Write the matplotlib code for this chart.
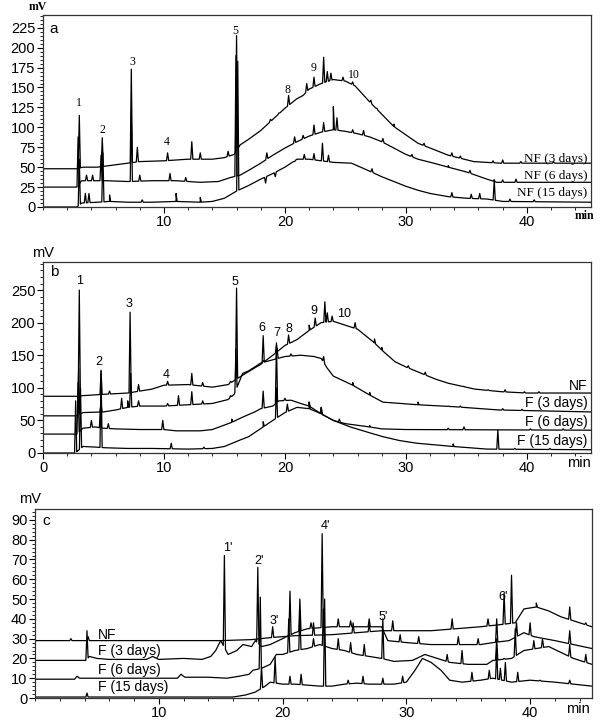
import numpy as np
import matplotlib
matplotlib.use("Agg")
import matplotlib.pyplot as plt
from matplotlib.ticker import MultipleLocator, FixedLocator

# ---------------- DATA ----------------
# Each trace: baseline anchor points (time min, mV) and peak apexes (time min, mV)

# Panel a
A_LABELS = ["NF (3 days)", "NF (6 days)", "NF (15 days)"]
A_NF3_BASE = [(0, 48), (2.8, 48), (3.3, 50), (4.5, 50), (5.5, 52), (7, 55), (8, 57), (10, 58), (12, 60),
              (14, 60), (15, 62), (15.8, 66), (16.3, 78), (17, 85), (18, 96), (19, 110), (20, 124), (21, 136),
              (21.5, 140), (22, 148), (23, 155), (24, 160), (25, 158), (25.8, 152), (27, 132), (29, 101),
              (31, 80), (33.5, 65), (35.6, 57), (37.8, 55), (45.3, 55)]
A_NF3_PEAKS = [(3.0, 115), (4.9, 87), (7.3, 173), (7.8, 75), (10.3, 68), (12.3, 82), (13.0, 68), (15.3, 70),
               (16.0, 215), (18.8, 110), (19.5, 118), (20.3, 140), (21.8, 155), (22.4, 163), (23.2, 188),
               (23.5, 170), (23.8, 168), (24.8, 163), (25.6, 157), (27.1, 134), (27.6, 124), (29.0, 104),
               (31.5, 80), (33.8, 68), (34.5, 64), (37.2, 58), (38.0, 59), (39.5, 57), (42.2, 57)]
A_NF6_BASE = [(0, 25), (2.8, 25), (3.2, 33), (5.2, 33), (7, 32), (9, 33), (11, 33), (13, 31), (14.5, 32),
              (15.5, 37), (16.3, 40), (17, 46), (18, 55), (19, 65), (20, 74), (21, 82), (22, 89), (23, 94),
              (24, 97), (25, 95), (26, 92), (27, 88), (28, 82), (29, 74), (30, 66), (31, 60), (32.3, 55),
              (33.5, 50), (35, 44), (36.5, 36), (37.5, 31), (45.3, 31)]
A_NF6_PEAKS = [(2.9, 88), (3.6, 40), (4.1, 40), (4.8, 65), (7.3, 120), (8.0, 40), (10.5, 42), (11.8, 37),
               (15.95, 190), (18.5, 68), (20.8, 88), (21.5, 90), (22.4, 103), (23.2, 106), (24.0, 126),
               (24.3, 112), (25.6, 97), (26.5, 96), (28.1, 86), (30.5, 66), (33.5, 52), (35.3, 46),
               (37.3, 34), (38.0, 34), (39.1, 35)]
A_NF15_BASE = [(0, 0), (2.8, 0), (3.2, 5), (4.5, 6), (5.5, 7), (7, 6), (9, 6), (11, 7), (13, 6), (14, 7),
               (15, 11), (16, 20), (17, 27), (18, 35), (19, 42), (20, 50), (21, 60), (22, 60), (23, 58),
               (24, 56), (25.5, 55), (27, 45), (28, 38), (29, 32), (30, 26), (31, 21), (32, 17), (33.5, 13),
               (35, 11), (36.7, 10), (38, 7), (45.3, 6)]
A_NF15_PEAKS = [(3.0, 60), (3.5, 17), (3.8, 17), (4.95, 68), (5.5, 15), (8.2, 9), (11, 17), (13, 12),
                (16.1, 183), (18.4, 30), (19.2, 38), (20.8, 57), (21.6, 66), (22.4, 67), (23.1, 80),
                (23.6, 65), (27.2, 48), (33.8, 18), (35.4, 16), (36.1, 17), (37.3, 34), (38.6, 10), (40.6, 9)]
A_PEAK_NAMES = ["1", "2", "3", "4", "5", "8", "9", "10"]
A_PEAK_POS = [(3.0, 131), (4.9, 97), (7.35, 182), (10.2, 82), (15.9, 221), (20.2, 147), (22.4, 175), (25.7, 166)]
A_YTICKS = [0, 25, 50, 75, 100, 125, 150, 175, 200, 225]

# Panel b
B_LABELS = ["NF", "F (3 days)", "F (6 days)", "F (15 days)"]
B_NF_BASE = [(0, 87), (2.8, 87), (3.3, 88), (5, 90), (7, 92), (9, 98), (10, 104), (12, 105), (14, 101),
             (15.3, 105), (16.3, 117), (17, 125), (18, 136), (19, 150), (20, 165), (21, 174), (22, 188),
             (23, 200), (24, 202), (25, 196), (26, 190), (27.4, 169), (28, 158), (29.1, 140), (30, 132),
             (31.3, 122), (32.5, 113), (33.5, 107), (35.7, 98), (37.9, 94), (40, 92), (45.3, 92)]
B_NF_PEAKS = [(3.0, 250), (4.8, 125), (5.5, 95), (7.2, 216), (7.9, 105), (10.3, 110), (12.3, 122),
              (13.2, 108), (15.5, 110), (16.0, 253), (18.2, 180), (19.3, 166), (20.3, 181), (20.6, 170),
              (22.0, 196), (22.5, 207), (23.3, 232), (23.5, 215), (23.9, 210), (25.8, 200), (27.4, 175),
              (28.0, 162), (30.2, 134), (31.6, 124), (34.8, 102), (36.8, 97), (38.2, 97), (39.8, 94), (41.0, 94)]
B_F3_BASE = [(0, 57), (2.8, 57), (3.3, 62), (5, 63), (6, 66), (7, 70), (8, 72), (10, 72), (12, 74), (14, 76),
             (15.3, 82), (15.8, 90), (16.5, 122), (17, 126), (18, 138), (19, 143), (20, 148), (21.3, 150),
             (22.4, 148), (23, 145), (23.5, 130), (24, 118), (25.6, 104), (27, 89), (28.1, 78), (31, 74),
             (34, 71), (37.7, 66), (45.3, 63)]
B_F3_PEAKS = [(2.95, 130), (4.8, 75), (6.5, 84), (7.0, 80), (7.25, 122), (7.9, 80), (10.3, 76), (11.2, 88),
              (12.3, 94), (13.2, 80), (15.5, 88), (15.95, 160), (18.2, 142), (19.35, 160), (20.5, 152),
              (23.2, 148), (25.6, 108), (27.0, 93), (31.0, 78), (33.5, 72), (34.5, 72), (38.0, 68), (39.6, 67)]
B_F6_BASE = [(0, 29), (2.8, 29), (3.3, 38), (4.3, 40), (5, 38), (6, 37), (8, 36), (10, 36), (11, 34),
             (13, 34), (14, 36), (15.6, 47), (16.5, 55), (17.5, 63), (18, 68), (19, 72), (19.5, 80),
             (20.5, 81), (21.3, 76), (22, 72), (23, 60), (24, 50), (25, 45), (27, 40), (28, 37), (30, 36),
             (45.3, 35)]
B_F6_PEAKS = [(2.9, 108), (4.0, 50), (4.75, 70), (5.4, 45), (9.9, 50), (15.6, 52), (18.2, 95), (19.3, 169),
              (20.0, 84), (22.0, 78), (23.0, 70), (24.5, 52), (27.0, 42), (33.5, 38), (34.8, 40), (40.3, 37),
              (43.0, 37)]
B_F15_BASE = [(0, 0), (2.6, 0), (2.8, 2), (3.3, 10), (4.4, 9), (5.2, 8), (7, 7), (9, 7), (12, 6), (14, 7),
              (15, 10), (16.3, 20), (17, 25), (18.2, 40), (19, 50), (20, 62), (21, 70), (22, 68), (22.9, 61),
              (24, 50), (25.4, 40), (27, 31), (28.1, 25), (29.5, 19), (30.9, 15), (33.9, 10), (36.7, 6),
              (45.3, 5)]
B_F15_PEAKS = [(2.7, 80), (3.1, 100), (4.8, 127), (10.6, 15), (13.3, 9), (18.2, 48), (19.3, 100),
               (20.2, 75), (22.0, 78), (23.0, 70), (33.9, 14), (37.6, 35), (39.0, 7), (41.9, 7)]
B_PEAK_NAMES = ["1", "2", "3", "4", "5", "6", "7", "8", "9", "10"]
B_PEAK_POS = [(3.0, 264), (4.6, 140), (7.1, 228), (10.2, 120), (15.9, 262), (18.1, 192), (19.3, 184),
              (20.3, 190), (22.4, 218), (24.9, 213)]
B_YTICKS = [0, 50, 100, 150, 200, 250]

# Panel c
C_LABELS = ["NF", "F (3 days)", "F (6 days)", "F (15 days)"]
C_NF_BASE = [(0, 29), (15, 29), (17.5, 29.5), (19, 30.5), (20, 31), (21, 31.5), (24, 32), (26, 33),
             (28, 34), (30, 34), (32, 34), (34, 35), (36, 36), (37.5, 37), (38.8, 38), (39.5, 45),
             (40.5, 46), (41.5, 44), (42.5, 41), (43.5, 39), (45, 36)]
C_NF_PEAKS = [(2.9, 30), (4.3, 31), (19.2, 36), (22.5, 38), (25.7, 38), (27.0, 37), (28.9, 39), (33.7, 40),
              (36.6, 40), (37.9, 53), (38.5, 62), (40.5, 48), (43.2, 46), (44.5, 38)]
C_F3_BASE = [(0, 19), (4.1, 19), (4.4, 21), (5, 20), (6, 19.5), (9, 19.5), (9.5, 21), (10, 19.5), (12, 20),
             (13.5, 19.5), (14.2, 21), (14.6, 24), (15.0, 29), (15.6, 22), (16.3, 24), (16.8, 27),
             (17.5, 26), (17.8, 29), (18.3, 26), (19, 27), (20, 30), (21, 33), (22, 35), (24, 36),
             (28, 36), (28.5, 29), (30, 28), (32, 27), (34, 27), (36, 27), (37, 28), (38.3, 29), (39.5, 33),
             (40.3, 31), (42, 29), (43.5, 27), (45, 25)]
C_F3_PEAKS = [(4.2, 34), (15.3, 72), (18.0, 66), (20.6, 54), (21.4, 50), (22.3, 38), (23.2, 83), (24.5, 40),
              (25.5, 39), (27.0, 40), (29.5, 32), (31.0, 31), (34.2, 31), (35.8, 30), (37.3, 40), (38.9, 38),
              (40.0, 38), (43.2, 34)]
C_F6_BASE = [(0, 9.5), (3.2, 9.5), (3.4, 11), (3.6, 10), (11.5, 10), (11.8, 12), (12.1, 10.5), (14, 10.5),
             (15.5, 10), (16.5, 11), (17.3, 12), (17.6, 14), (18.3, 15), (19, 17), (19.5, 22), (20, 22),
             (21, 24), (22, 25), (23, 27), (24, 25), (25, 24), (26, 22), (27, 21), (28, 20), (29, 18.5),
             (30.5, 19), (31.5, 22), (32.5, 20), (33.5, 18), (35, 17), (36.5, 17), (37, 19), (38.5, 20),
             (39.5, 24), (40.5, 25), (41.5, 26), (42.5, 23), (43.5, 20), (45, 17)]
C_F6_PEAKS = [(18.2, 51), (20.5, 40), (21.4, 44), (22.5, 30), (23.3, 45), (24.5, 30), (25.5, 28),
              (26.6, 27), (28.1, 40), (33.3, 22), (34.5, 24), (37.3, 30), (37.9, 20), (38.8, 35), (40.3, 29),
              (41.0, 30), (43.2, 27), (44.5, 22)]
C_F15_BASE = [(0, 0.5), (16, 0.5), (17, 1.5), (17.8, 3), (18.6, 6), (19, 8), (20, 7), (21, 7), (22, 6.5),
              (23, 6), (24, 6), (25, 7), (26, 7.5), (27, 7), (29, 7), (30, 8), (30.7, 14), (31.3, 20),
              (32, 18), (32.8, 14), (33.5, 9), (34.5, 8), (36, 9), (37, 10), (38.5, 8), (40, 9), (42, 8),
              (43.5, 7), (45, 6)]
C_F15_PEAKS = [(4.2, 2.5), (18.3, 16), (19.4, 20.5), (20.6, 11), (21.5, 12), (23.4, 50), (25.3, 9),
               (26.5, 11), (28.1, 10), (29.7, 11), (35.3, 13), (36.7, 14), (37.3, 25), (37.6, 15), (38.0, 18),
               (39.0, 13), (40.8, 9), (43.2, 9)]
C_PEAK_NAMES = ["1'", "2'", "3'", "4'", "5'", "6'"]
C_PEAK_POS = [(15.6, 76), (18.1, 69), (19.3, 39), (23.5, 87), (28.1, 41), (37.8, 51)]
C_YTICKS = [0, 10, 20, 30, 40, 50, 60, 70, 80, 90]

X_TICKS = [0, 10, 20, 30, 40]

# ---------------- DRAWING ----------------
SANS = "Liberation Sans"
SERIF = "Liberation Serif"
plt.rcParams["font.family"] = SANS

PEAK_HALF_WIDTH = 0.09


def trace(base, peaks, w=PEAK_HALF_WIDTH):
    bt = np.array([p[0] for p in base], dtype=float)
    bv = np.array([p[1] for p in base], dtype=float)
    ts = list(bt)
    vs = list(bv)
    for t, v in peaks:
        for tt in (t - w, t + w):
            ts.append(tt)
            vs.append(float(np.interp(tt, bt, bv)))
        ts.append(t)
        vs.append(v)
    ts = np.array(ts)
    vs = np.array(vs)
    order = np.argsort(ts, kind="stable")
    return ts[order], vs[order]


fig = plt.figure(figsize=(6.0, 7.2), dpi=100)
W, H = 600.0, 720.0


def axes_px(l, t, r, b):
    return fig.add_axes([l / W, 1 - b / H, (r - l) / W, (b - t) / H])


axA = axes_px(43, 15, 591, 207)
axB = axes_px(43, 262, 591, 453)
axC = axes_px(35, 509, 592, 698)


def style(ax, xmax, ymax, yticks, yminor, xlabels_start, tickfont):
    ax.set_xlim(0, xmax)
    ax.set_ylim(0, ymax)
    ax.yaxis.set_major_locator(FixedLocator(yticks))
    ax.yaxis.set_minor_locator(MultipleLocator(yminor))
    xt = [x for x in X_TICKS if x >= xlabels_start]
    ax.xaxis.set_major_locator(FixedLocator(xt))
    ax.xaxis.set_minor_locator(MultipleLocator(2))
    ax.tick_params(which="major", direction="out", length=4, width=0.8, labelsize=10.5, pad=1.5)
    ax.tick_params(which="minor", direction="out", length=2.5, width=0.6)
    for lab in ax.get_xticklabels() + ax.get_yticklabels():
        lab.set_fontfamily(tickfont)
    for s in ax.spines.values():
        s.set_linewidth(0.9)
        s.set_color("#333333")


LW = 0.9

# Panel a
for base, peaks in [(A_NF3_BASE, A_NF3_PEAKS), (A_NF6_BASE, A_NF6_PEAKS), (A_NF15_BASE, A_NF15_PEAKS)]:
    t, v = trace(base, peaks)
    axA.plot(t, v, color="black", lw=LW)
style(axA, 45.3, 241, A_YTICKS, 5, 10, SANS)
for name, (t, v) in zip(A_PEAK_NAMES, A_PEAK_POS):
    axA.text(t, v, name, family=SERIF, fontsize=8.5, ha="center", va="center")
for lab, yv in zip(A_LABELS, [60, 39, 18]):
    axA.text(45.0, yv, lab, family=SERIF, fontsize=9.5, ha="right", va="center")
axA.text(0.012, 0.925, "a", transform=axA.transAxes, fontsize=11, ha="left", va="center")
fig.text(38 / W, 1 - 7 / H, "mV", family=SERIF, fontsize=8.5, fontweight="bold", ha="center", va="center")
fig.text(584 / W, 1 - 216 / H, "min", family=SERIF, fontsize=8.5, fontweight="bold", ha="center", va="center")

# Panel b
for base, peaks in [(B_NF_BASE, B_NF_PEAKS), (B_F3_BASE, B_F3_PEAKS), (B_F6_BASE, B_F6_PEAKS),
                    (B_F15_BASE, B_F15_PEAKS)]:
    t, v = trace(base, peaks)
    axB.plot(t, v, color="black", lw=LW)
style(axB, 45.3, 293, B_YTICKS, 10, 0, SANS)
for name, (t, v) in zip(B_PEAK_NAMES, B_PEAK_POS):
    axB.text(t, v, name, fontsize=9, ha="center", va="center")
for lab, yv in zip(B_LABELS, [103, 77, 48, 18]):
    axB.text(45.0, yv, lab, fontsize=10, ha="right", va="center")
axB.text(0.012, 0.95, "b", transform=axB.transAxes, fontsize=11, ha="left", va="center")
fig.text(43 / W, 1 - 253 / H, "mV", fontsize=10.5, ha="center", va="center")
fig.text(579 / W, 1 - 463 / H, "min", fontsize=10.5, ha="center", va="center")

# Panel c
for base, peaks in [(C_NF_BASE, C_NF_PEAKS), (C_F3_BASE, C_F3_PEAKS), (C_F6_BASE, C_F6_PEAKS),
                    (C_F15_BASE, C_F15_PEAKS)]:
    t, v = trace(base, peaks)
    axC.plot(t, v, color="black", lw=LW)
style(axC, 45.0, 95.5, C_YTICKS, 2, 10, SANS)
for name, (t, v) in zip(C_PEAK_NAMES, C_PEAK_POS):
    axC.text(t, v, name, fontsize=9, ha="center", va="center")
for lab, yv in zip(C_LABELS, [32, 24, 14, 5.5]):
    axC.text(5.1, yv, lab, fontsize=10, ha="left", va="center")
axC.text(0.013, 0.937, "c", transform=axC.transAxes, fontsize=11, ha="left", va="center")
fig.text(30 / W, 1 - 499 / H, "mV", fontsize=10.5, ha="center", va="center")
fig.text(578 / W, 1 - 709 / H, "min", fontsize=10.5, ha="center", va="center")

fig.savefig("out.png", dpi=100, facecolor="white")
